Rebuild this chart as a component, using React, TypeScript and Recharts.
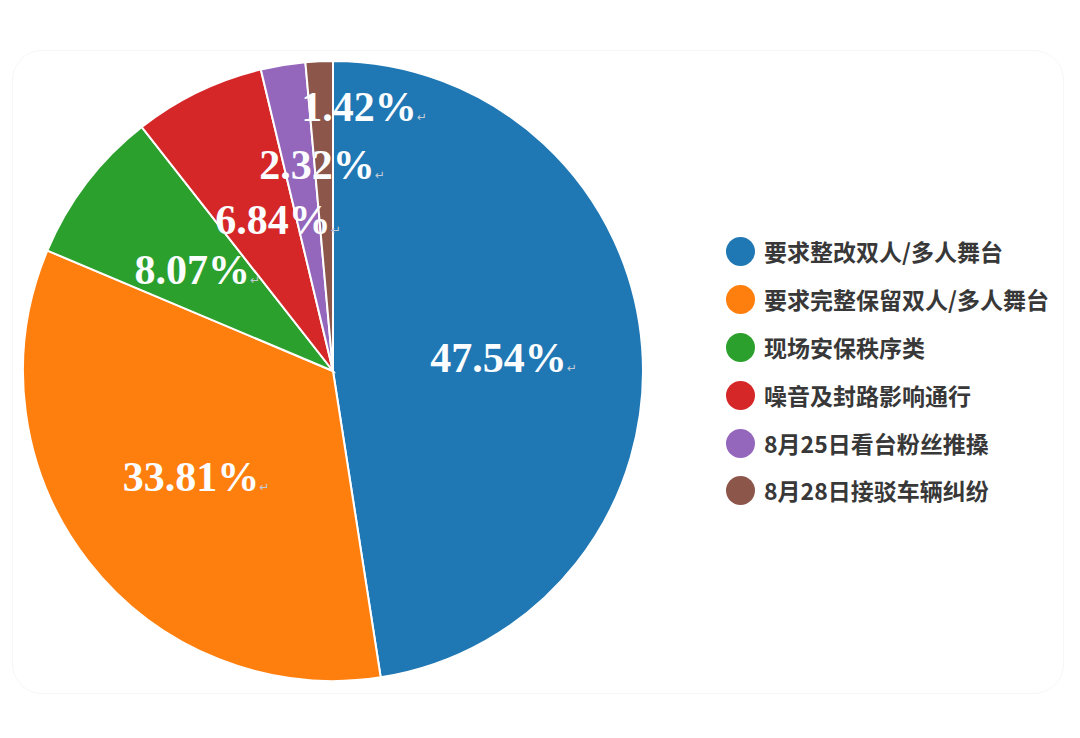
import React from 'react';
import { PieChart, Pie, Cell, Legend } from 'recharts';

const categories = [
  '要求整改双人/多人舞台',
  '要求完整保留双人/多人舞台',
  '现场安保秩序类',
  '噪音及封路影响通行',
  '8月25日看台粉丝推搡',
  '8月28日接驳车辆纠纷',
];
const shares = [47.54, 33.81, 8.07, 6.84, 2.32, 1.42];
const colors = ['#1f77b4', '#ff7f0e', '#2ca02c', '#d62728', '#9467bd', '#8c564b'];

// label placement tweaks: [angle offset in degrees, radius fraction]
const labelPlacement: [number, number][] = [
  [0, 0.532],
  [-1.5, 0.574],
  [1.9, 0.561],
  [-3.8, 0.526],
  [-4.6, 0.668],
  [-8, 0.855],
];

const data = categories.map((name, i) => ({ name, value: shares[i] }));

const RAD = Math.PI / 180;

const renderLabel = (props: any) => {
  const { cx, cy, midAngle, outerRadius, index, value } = props;
  const [dAng, frac] = labelPlacement[index] || [0, 0.6];
  const a = (midAngle + dAng) * RAD;
  const r = outerRadius * frac;
  const x = cx + r * Math.cos(a);
  const y = cy - r * Math.sin(a);
  return (
    <text
      x={x + 6}
      y={y + 14}
      textAnchor="middle"
      fontFamily='"Liberation Serif", "Times New Roman", serif'
      fontWeight={700}
      fontSize={42}
      fill="#fbfdff"
    >
      <tspan>{Number(value).toFixed(2)}%</tspan>
      <tspan fontSize={12} fill="#c5ccd6" fontFamily='"DejaVu Sans", sans-serif' fontWeight={400}>↵</tspan>
    </text>
  );
};

const renderLegend = () => (
  <div style={{ display: 'flex', flexDirection: 'column' }}>
    {categories.map((c, i) => (
      <div key={c} style={{ display: 'flex', alignItems: 'center', height: 47.8 }}>
        <span
          style={{
            display: 'inline-block',
            flexShrink: 0,
            width: 29,
            height: 29,
            borderRadius: '50%',
            background: colors[i],
            marginRight: 9,
          }}
        />
        <span
          style={{
            fontFamily: '"Noto Sans CJK SC", "Noto Sans", sans-serif',
            fontWeight: 700,
            fontSize: 23,
            color: '#383838',
            whiteSpace: 'nowrap',
            lineHeight: '29px',
          }}
        >
          {c}
        </span>
      </div>
    ))}
  </div>
);

export default function App() {
  return (
    <div style={{ position: 'absolute', left: 0, top: 0, width: 1080, height: 738, background: '#fff' }}>
      <div
        style={{
          position: 'absolute',
          left: 12,
          top: 50,
          width: 1052,
          height: 644,
          border: '1px solid #f7f7f7',
          borderRadius: 30,
          boxSizing: 'border-box',
        }}
      />
      <div style={{ position: 'absolute', left: 0, top: 0 }}>
        <PieChart width={1080} height={738} margin={{ top: 0, right: 0, bottom: 0, left: 0 }}>
          <Pie
            data={data}
            dataKey="value"
            nameKey="name"
            cx={333}
            cy={371}
            outerRadius={310}
            startAngle={90}
            endAngle={-270}
            stroke="#ffffff"
            strokeWidth={2}
            label={renderLabel}
            labelLine={false}
            isAnimationActive={false}
          >
            {data.map((d, i) => (
              <Cell key={d.name} fill={colors[i]} />
            ))}
          </Pie>
          <Legend
            content={renderLegend}
            wrapperStyle={{ position: 'absolute', left: 726, top: 228, width: 340, height: 290 }}
          />
        </PieChart>
      </div>
    </div>
  );
}
